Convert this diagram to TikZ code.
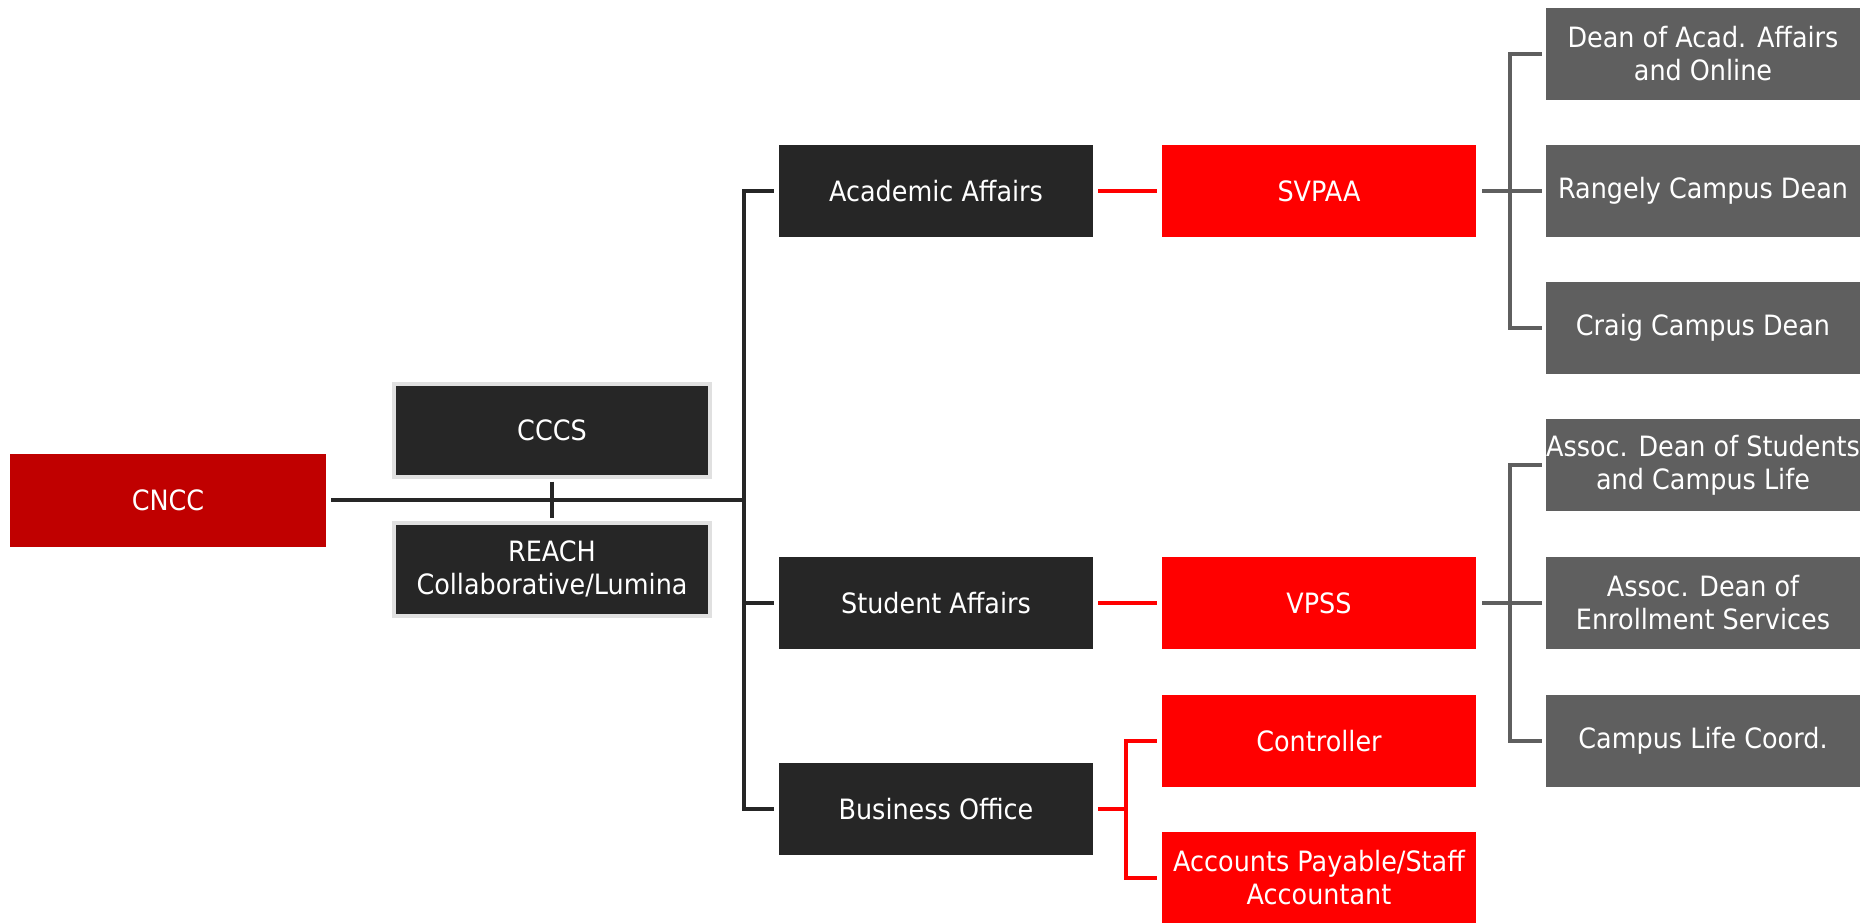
\documentclass[tikz,border=0pt]{standalone}
\usepackage{fontspec}
\setmainfont[FakeStretch=0.91]{DejaVu Sans}
\definecolor{boxdark}{HTML}{262626}
\definecolor{boxgray}{HTML}{5F5F5F}
\definecolor{boxred}{HTML}{FF0000}
\definecolor{cnccred}{HTML}{C00000}
\definecolor{rimgray}{HTML}{E0E0E0}
\tikzset{
  orgbox/.style={rectangle, minimum width=314pt, minimum height=92pt, inner sep=0pt,
    align=center, text=white, font=\fontsize{28pt}{33pt}\selectfont},
  darkbox/.style={orgbox, fill=boxdark},
  graybox/.style={orgbox, fill=boxgray},
  redbox/.style={orgbox, fill=boxred},
  rimbox/.style={orgbox, fill=boxdark, draw=rimgray, line width=4pt, minimum width=316pt, minimum height=93pt},
  darkline/.style={draw=boxdark, line width=3.5pt},
  redline/.style={draw=boxred, line width=3.5pt},
  grayline/.style={draw=boxgray, line width=4pt},
}
\begin{document}
\begin{tikzpicture}[x=1pt,y=-1pt]
\useasboundingbox (0,0) rectangle (1867,922);
% nodes
\node[orgbox, fill=cnccred, minimum width=316pt, minimum height=93pt] (cncc) at (168,500) {CNCC};
\node[rimbox] (cccs) at (552,430) {CCCS};
\node[rimbox] (reach) at (552,569) {REACH\\Collaborative/Lumina};
\node[darkbox] (aa) at (936,191) {Academic Affairs};
\node[darkbox] (sa) at (936,603) {Student Affairs};
\node[darkbox] (bo) at (936,809) {Business Office};
\node[redbox] (svpaa) at (1319,191) {SVPAA};
\node[redbox] (vpss) at (1319,603) {VPSS};
\node[redbox] (ctrl) at (1319,741) {Controller};
\node[redbox] (ap) at (1319,878) {Accounts Payable/Staff\\Accountant};
\node[graybox] (dean) at (1703,54) {Dean of Acad. Affairs\\and Online};
\node[graybox] (rang) at (1703,191) {Rangely Campus Dean};
\node[graybox] (craig) at (1703,328) {Craig Campus Dean};
\node[graybox] (ads) at (1703,465) {Assoc. Dean of Students\\and Campus Life};
\node[graybox] (ade) at (1703,603) {Assoc. Dean of\\Enrollment Services};
\node[graybox] (clc) at (1703,741) {Campus Life Coord.};
% junction coordinates
\coordinate (trunk) at (744,500);
\coordinate (bj) at (1126,809);
\coordinate (sj) at (1510,191);
\coordinate (vj) at (1510,603);
% connectors
\draw[darkline, shorten <=5pt] (cncc.east) -- (trunk);
\draw[darkline, shorten <=3pt, shorten >=3pt] (cccs.south) -- (reach.north);
\draw[darkline, shorten >=5pt] (trunk) |- (aa.west);
\draw[darkline, shorten >=5pt] (trunk) |- (sa.west);
\draw[darkline, shorten >=5pt] (trunk) |- (bo.west);
\draw[redline, shorten <=5pt, shorten >=5pt] (aa.east) -- (svpaa.west);
\draw[redline, shorten <=5pt, shorten >=5pt] (sa.east) -- (vpss.west);
\draw[redline, shorten <=5pt] (bo.east) -- (bj);
\draw[redline, shorten >=5pt] (bj) |- (ctrl.west);
\draw[redline, shorten >=5pt] (bj) |- (ap.west);
\draw[grayline, shorten <=6pt] (svpaa.east) -- (sj);
\draw[grayline, shorten >=4pt] (sj) |- (dean.west);
\draw[grayline, shorten >=4pt] (sj) -- (rang.west);
\draw[grayline, shorten >=4pt] (sj) |- (craig.west);
\draw[grayline, shorten <=6pt] (vpss.east) -- (vj);
\draw[grayline, shorten >=4pt] (vj) |- (ads.west);
\draw[grayline, shorten >=4pt] (vj) -- (ade.west);
\draw[grayline, shorten >=4pt] (vj) |- (clc.west);
\end{tikzpicture}
\end{document}
